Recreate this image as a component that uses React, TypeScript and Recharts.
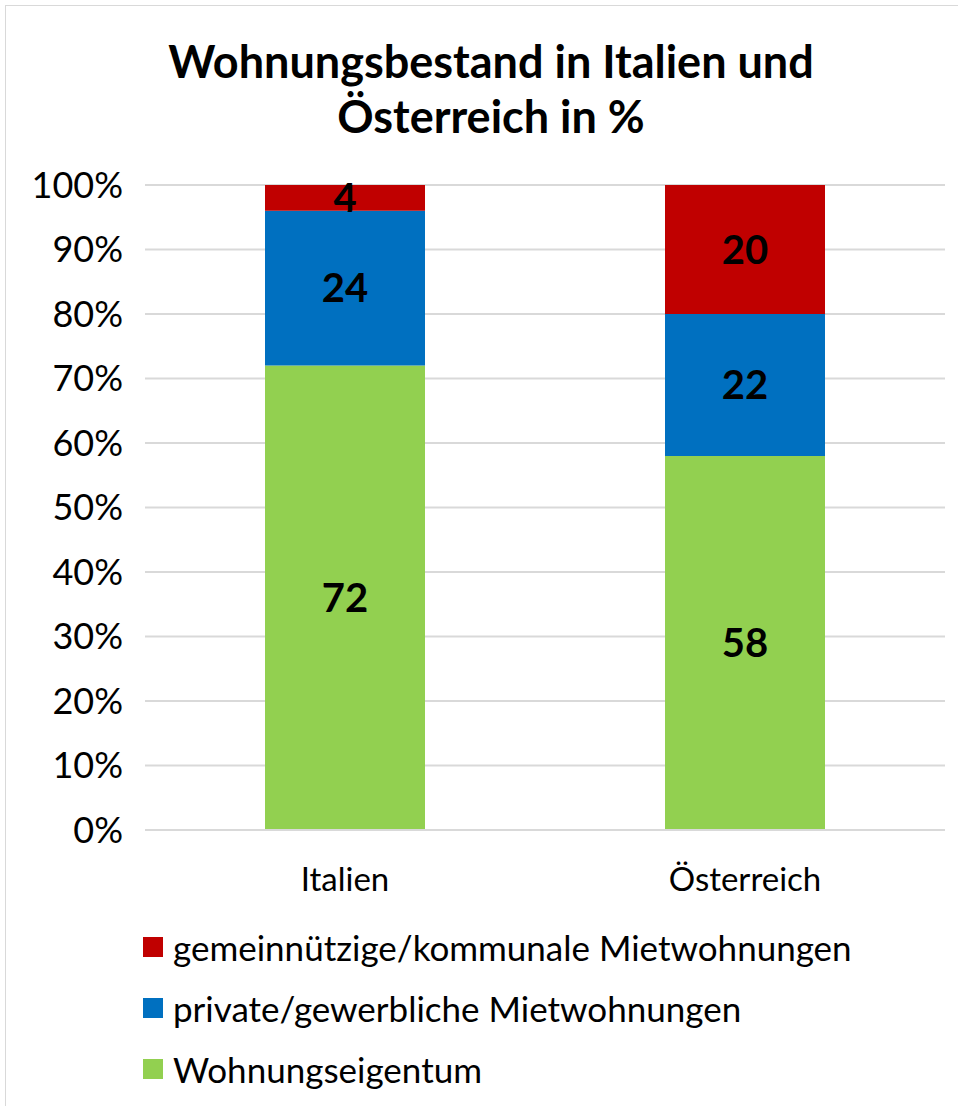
import React from "react";
import { BarChart, Bar, XAxis, YAxis, CartesianGrid, LabelList } from "recharts";

const countries = ["Italien", "Österreich"];
const eigentum = [72, 58];
const privat = [24, 22];
const gemeinnuetzig = [4, 20];
const yTicks = [0, 10, 20, 30, 40, 50, 60, 70, 80, 90, 100];

const SERIES = [
  { key: "eigentum", name: "Wohnungseigentum", color: "#92D050" },
  { key: "privat", name: "private/gewerbliche Mietwohnungen", color: "#0070C0" },
  { key: "gemeinnuetzig", name: "gemeinnützige/kommunale Mietwohnungen", color: "#C00000" },
];

const data = countries.map((c, i) => ({
  country: c,
  eigentum: eigentum[i],
  privat: privat[i],
  gemeinnuetzig: gemeinnuetzig[i],
}));

const FONT = "Lato, 'Open Sans', sans-serif";

function LegendList() {
  // legend shows stack top first
  const items = [...SERIES].reverse();
  return (
    <div style={{ fontFamily: FONT }}>
      {items.map((s) => (
        <div key={s.key} style={{ display: "flex", alignItems: "center", height: 61 }}>
          <span style={{ width: 20, height: 20, background: s.color, marginRight: 10 }} />
          <span style={{ fontSize: 35, color: "#000" }}>{s.name}</span>
        </div>
      ))}
    </div>
  );
}

export default function App() {
  return (
    <div
      style={{
        position: "absolute",
        left: 0,
        top: 0,
        width: 958,
        height: 1106,
        background: "#fff",
        overflow: "hidden",
      }}
    >
      <div
        style={{
          position: "absolute",
          left: 5,
          top: 5,
          width: 960,
          height: 1110,
          border: "1px solid #d9d9d9",
        }}
      />
      <div
        style={{
          position: "absolute",
          left: 0,
          top: 34,
          width: 982,
          textAlign: "center",
          fontFamily: FONT,
          fontWeight: 700,
          fontSize: 45,
          lineHeight: "55px",
          color: "#000",
        }}
      >
        Wohnungsbestand in Italien und
        <br />
        Österreich in %
      </div>
      <div style={{ position: "absolute", left: 0, top: 0 }}>
        <BarChart
          width={958}
          height={1106}
          data={data}
          margin={{ top: 185, right: 13, bottom: 216, left: 0 }}
          barSize={160}
        >
          <CartesianGrid vertical={false} stroke="#d9d9d9" strokeWidth={2} />
          <XAxis
            dataKey="country"
            height={60}
            axisLine={{ stroke: "#d9d9d9", strokeWidth: 2 }}
            tickLine={false}
            tickMargin={32}
            tick={{ fontSize: 33, fill: "#000", fontFamily: FONT }}
          />
          <YAxis
            width={145}
            domain={[0, 100]}
            ticks={yTicks}
            interval={0}
            axisLine={false}
            tickLine={false}
            tickMargin={16}
            tickFormatter={(v: number) => `${v}%`}
            tick={{ fontSize: 36, fill: "#000", fontFamily: FONT }}
          />
          {SERIES.map((s) => (
            <Bar key={s.key} dataKey={s.key} name={s.name} stackId="a" fill={s.color} isAnimationActive={false}>
              <LabelList
                dataKey={s.key}
                position="center"
                fill="#000"
                style={{ fontSize: 40, fontWeight: 700, fontFamily: FONT }}
              />
            </Bar>
          ))}
        </BarChart>
      </div>
      <div style={{ position: "absolute", left: 143, top: 916 }}>
        <LegendList />
      </div>
    </div>
  );
}
